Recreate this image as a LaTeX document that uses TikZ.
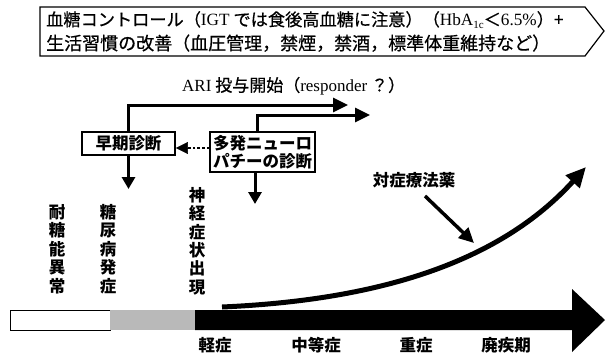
\documentclass[tikz,border=0pt]{standalone}
\usepackage{fontspec}
\setmainfont{Noto Sans CJK JP}
\newfontfamily\jpm{Noto Sans CJK JP}[FakeBold=0.6]
\newfontfamily\lat{Liberation Serif}
\usetikzlibrary{arrows.meta}
\begin{document}
\begin{tikzpicture}[x=1pt,y=-1pt,
  boxnode/.style={draw, line width=1.8pt, inner sep=0pt, align=center, font=\fontsize{16.5}{18.5}\selectfont\bfseries},
  fat/.style={line width=3pt, -{Triangle[length=15pt,width=14pt]}},
  downarr/.style={line width=3pt, -{Triangle[length=12pt,width=13pt]}},
  vlabel/.style={align=center, inner sep=0pt, font=\fontsize{16.5}{18.4}\selectfont\bfseries},
  hlabel/.style={inner sep=0pt, font=\fontsize{16.5}{18}\selectfont\bfseries}
]
\useasboundingbox (0,0) rectangle (606,360);
\fill[white] (0,0) rectangle (606,360);

% top box
\draw[line width=1.2pt] (40,7) -- (585,7) -- (604,31) -- (585,56) -- (40,56) -- cycle;
\node[anchor=west, align=left, inner sep=0pt, font=\fontsize{18}{24}\jpm] (toptext) at (46,31.5)
 {{\fontsize{17.2}{24}\selectfont 血糖コントロール（{\lat IGT} では食後高血糖に注意）（{\lat HbA}\raisebox{-0.3ex}{\lat\fontsize{11}{11}\selectfont 1c}＜{\lat 6.5\%}）+}\\
  生活習慣の改善（血圧管理，禁煙，禁酒，標準体重維持など）};

% ARI label
\node[anchor=west, inner sep=0pt, font=\fontsize{17}{18}\jpm] (ari) at (182,86)
 {{\lat ARI} 投与開始（{\lat responder} ？）};

% boxes
\node[boxnode, minimum width=93pt, minimum height=23pt] (early) at (128.5,143.5) {早期診断};
\node[boxnode, minimum width=105pt, minimum height=40pt] (multi) at (262.5,152) {多発ニューロ\\パチーの診断};

% top arrows
\coordinate (e1) at (348,105);
\coordinate (m1) at (370,115);
\coordinate (mx) at (257,0);
\draw[fat] (early.north) |- (e1);
\draw[fat] (multi.north -| mx) |- (m1);

% down arrows
\coordinate (e2) at (128.5,189);
\coordinate (m2) at (255,204);
\draw[downarr] (early.south) -- (e2);
\draw[downarr] (multi.south -| m2) -- (m2);

% dotted arrow
\coordinate (dy) at (0,148);
\coordinate (dmid) at (187,148);
\draw[line width=2.6pt, dotted] (multi.west |- dy) -- (dmid);
\draw[line width=0.5pt, -{Triangle[length=12pt,width=12pt]}] (dmid) -- (early.east |- dy);

% vertical labels
\node[vlabel] (l1) at (57,249) {耐\\糖\\能\\異\\常};
\node[vlabel] (l2) at (108,249) {糖\\尿\\病\\発\\症};
\node[vlabel] (l3) at (197,241) {神\\経\\症\\状\\出\\現};

% progress bar
\node[draw, line width=1pt, fill=white, minimum width=100pt, minimum height=20pt, inner sep=0pt] (pre) at (60,320) {};
\node[fill=gray!55, minimum width=85pt, minimum height=20pt, inner sep=0pt] (dm) at (152.5,320) {};
\fill (195,310) -- (572,310) -- (572,289) -- (605,320) -- (572,352) -- (572,330) -- (195,330) -- cycle;

% bottom labels
\node[hlabel] (s1) at (215,345) {軽症};
\node[hlabel] (s2) at (316,345) {中等症};
\node[hlabel] (s3) at (416,345) {重症};
\node[hlabel] (s4) at (506,345) {廃疾期};

% symptomatic curve
\coordinate (c0) at (222,307);
\coordinate (c1) at (586,167);
\draw[line width=5pt, -{Triangle[length=20pt,width=18pt]}] (c0) .. controls (380,300) and (500,262) .. (c1);

% symptomatic label and arrow
\node[hlabel] (sym) at (414,180) {対症療法薬};
\coordinate (a0) at (425,196);
\coordinate (a1) at (474,243);
\draw[line width=3.5pt, -{Triangle[length=15pt,width=14pt]}] (a0) -- (a1);
\end{tikzpicture}
\end{document}
